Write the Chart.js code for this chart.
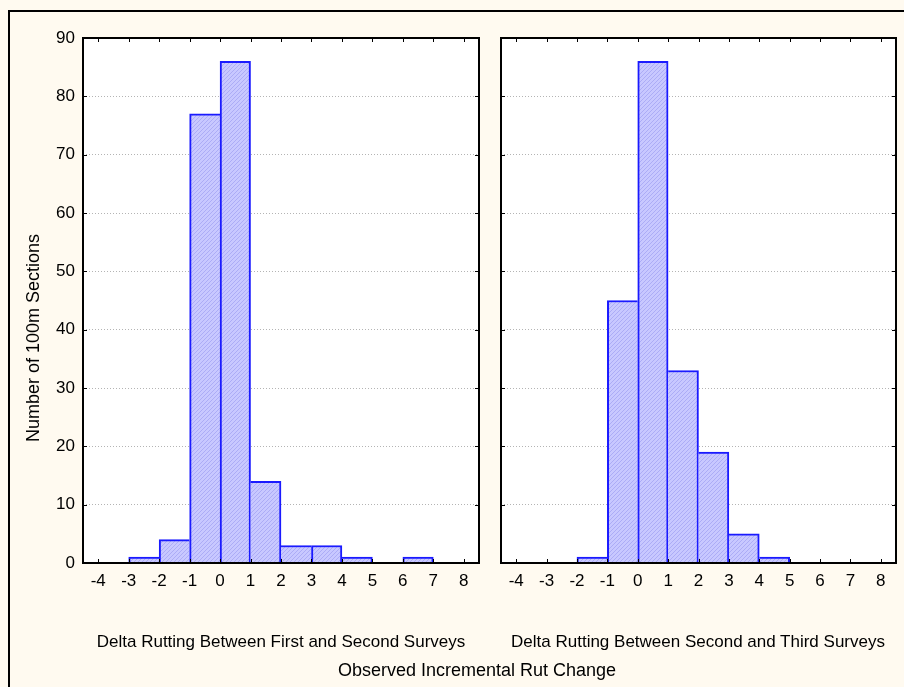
<!DOCTYPE html>
<html><head><meta charset="utf-8">
<script src="https://cdn.jsdelivr.net/npm/chart.js@4"></script>
<style>
html,body{margin:0;padding:0;background:#fffaf0;width:904px;height:687px;overflow:hidden;font-family:"Liberation Sans",Arial,sans-serif;}
#frame{position:absolute;left:8px;top:10px;width:1000px;height:1000px;border-top:2px solid #000;border-left:2px solid #000;box-sizing:border-box;}
.box{position:absolute;top:0;}
.t{position:absolute;white-space:nowrap;color:#000;text-align:center;}
</style></head><body>
<div id="frame"></div>
<div class="box" style="left:0;width:490px;height:687px"><canvas id="c1" width="490" height="687"></canvas></div>
<div class="box" style="left:490px;width:414px;height:687px"><canvas id="c2" width="414" height="687"></canvas></div>
<div class="t" id="yt" style="left:-167px;top:328px;width:400px;height:20px;line-height:20px;font-size:18px;transform:rotate(-90deg);">Number of 100m Sections</div>
<div class="t" style="left:31px;top:632px;width:500px;line-height:20px;font-size:17px;">Delta Rutting Between First and Second Surveys</div>
<div class="t" style="left:448px;top:632px;width:500px;line-height:20px;font-size:17px;">Delta Rutting Between Second and Third Surveys</div>
<div class="t" style="left:227px;top:660px;width:500px;line-height:20px;font-size:18px;">Observed Incremental Rut Change</div>
<script>
// ---- data ----
const binStarts = [-4, -3, -2, -1, 0, 1, 2, 3, 4, 5, 6, 7];
const firstToSecond = [0, 1, 4, 77, 86, 14, 3, 3, 1, 0, 1, 0];
const secondToThird = [0, 0, 1, 45, 86, 33, 19, 5, 1, 0, 0, 0];
const xTickValues = [-4, -3, -2, -1, 0, 1, 2, 3, 4, 5, 6, 7, 8];
const yTickValues = [0, 10, 20, 30, 40, 50, 60, 70, 80, 90];

function hatch() {
  const c = document.createElement('canvas'); c.width = 4; c.height = 4;
  const x = c.getContext('2d');
  x.fillStyle = '#c8c8ff'; x.fillRect(0, 0, 4, 4);
  x.fillStyle = '#acacf6';
  for (let i = 0; i < 4; i++) x.fillRect(i, 3 - i, 1, 1);
  return x.createPattern(c, 'repeat');
}
const pattern = hatch();

const framePlugin = {
  id: 'frame',
  beforeDraw(chart) {
    const {ctx, chartArea: a} = chart;
    ctx.save(); ctx.fillStyle = '#ffffff';
    ctx.fillRect(a.left, a.top, a.right - a.left, a.bottom - a.top);
    ctx.restore();
  },
  afterDraw(chart) {
    const {ctx, chartArea: a, scales} = chart;
    ctx.save();
    ctx.strokeStyle = '#000'; ctx.lineWidth = 1;
    ctx.beginPath();
    xTickValues.forEach(v => {
      const px = Math.round(scales.x.getPixelForValue(v)) + 0.5;
      ctx.moveTo(px, a.bottom); ctx.lineTo(px, a.bottom - 4);
      ctx.moveTo(px, a.top); ctx.lineTo(px, a.top + 4);
    });
    yTickValues.forEach(v => {
      const py = Math.round(scales.y.getPixelForValue(v)) + 0.5;
      ctx.moveTo(a.left, py); ctx.lineTo(a.left + 4, py);
      ctx.moveTo(a.right, py); ctx.lineTo(a.right - 4, py);
    });
    ctx.stroke();
    ctx.lineWidth = 2;
    ctx.strokeRect(a.left, a.top, a.right - a.left, a.bottom - a.top);
    ctx.restore();
  }
};

function makeChart(id, values, showY, pad) {
  const data = binStarts.map((s, i) => ({x: s + 0.5, y: values[i]}));
  const bw = (ctx) => {
    const i = ctx.dataIndex, v = values[i];
    const prev = i > 0 ? values[i - 1] : 0;
    const next = i < values.length - 1 ? values[i + 1] : 0;
    return {top: 2, bottom: 0, left: v >= prev && v > 0 ? 2 : 0, right: v > next ? 2 : 0};
  };
  return new Chart(document.getElementById(id), {
    type: 'bar',
    data: {datasets: [{
      data: data,
      backgroundColor: pattern,
      borderColor: '#1a1aff',
      borderWidth: bw,
      barPercentage: 1,
      categoryPercentage: 1,
      grouped: false
    }]},
    plugins: [framePlugin],
    options: {
      responsive: false,
      animation: false,
      events: [],
      layout: {padding: pad},
      plugins: {legend: {display: false}, tooltip: {enabled: false}, title: {display: false}},
      scales: {
        x: {
          type: 'linear', min: -4.5, max: 8.5, offset: false,
          afterBuildTicks: s => { s.ticks = xTickValues.map(v => ({value: v})); },
          afterFit: s => { s.height = 124; },
          grid: {display: false, drawTicks: false},
          border: {display: false},
          ticks: {color: '#000', padding: 8, maxRotation: 0, autoSkip: false,
                  font: {family: '"Liberation Sans", Arial, sans-serif', size: 17}}
        },
        y: {
          min: 0, max: 90,
          afterBuildTicks: s => { s.ticks = yTickValues.map(v => ({value: v})); },
          afterFit: s => { s.width = showY ? 83 : 0; },
          grid: {color: '#b4b4b4', lineWidth: 1, drawTicks: false},
          border: {display: false, dash: [1, 2]},
          ticks: {display: showY, color: '#000', padding: 8,
                  font: {family: '"Liberation Sans", Arial, sans-serif', size: 17}}
        }
      }
    }
  });
}

makeChart('c1', firstToSecond, true, {top: 38, right: 11, bottom: 0, left: 0});
makeChart('c2', secondToThird, false, {top: 38, right: 8, bottom: 0, left: 11});
</script>
</body></html>
